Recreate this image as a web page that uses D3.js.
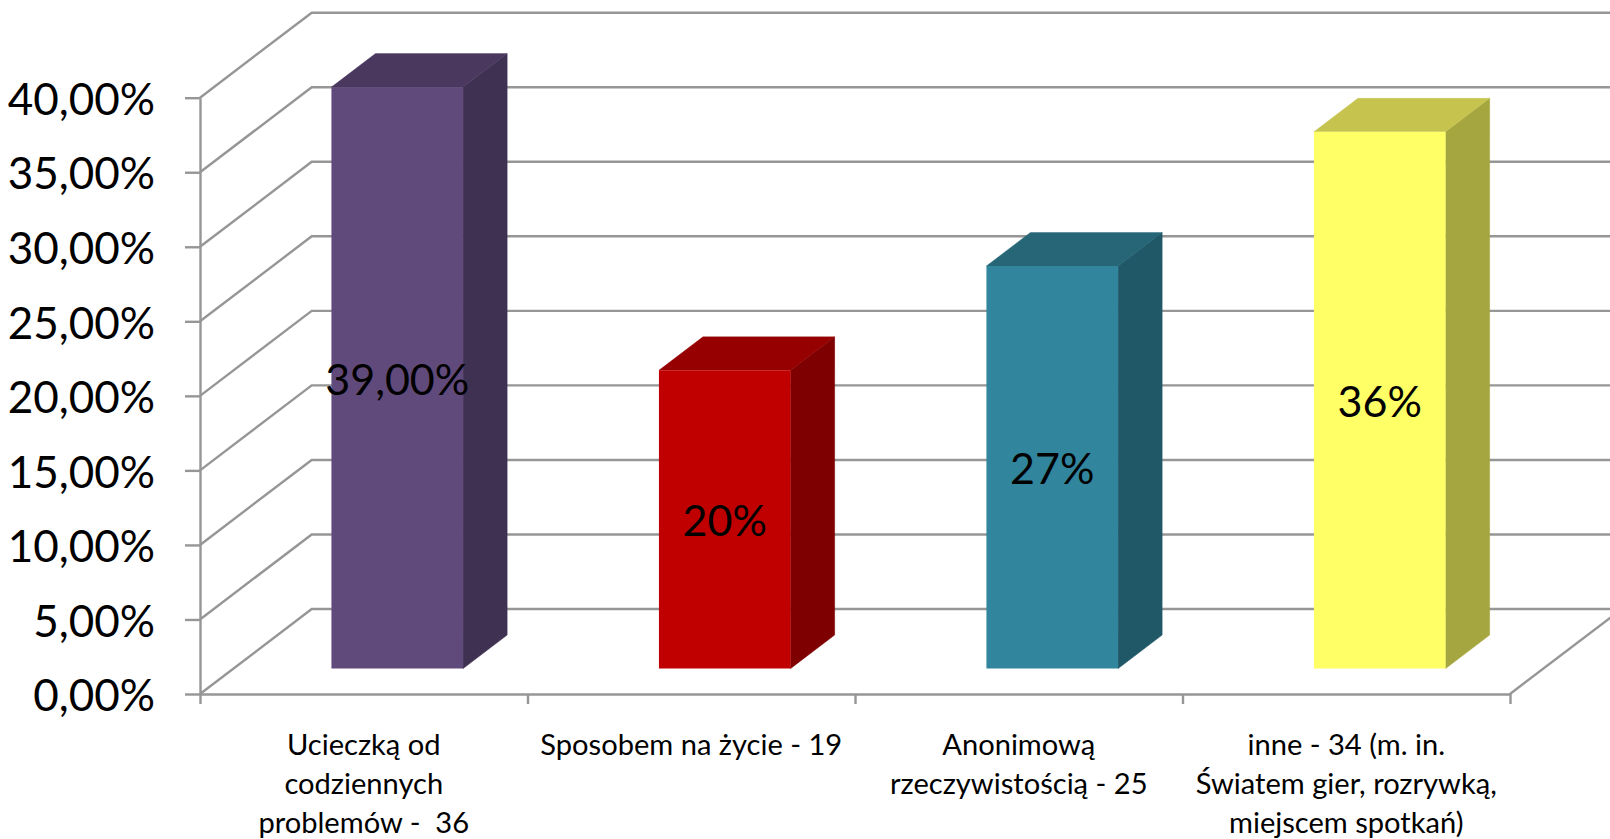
<!DOCTYPE html>
<html><head><meta charset="utf-8">
<style>html,body{margin:0;padding:0;background:#fff;overflow:hidden}svg{display:block}
text{font-family:Lato,"Noto Sans",sans-serif;fill:#000}</style>
<script src="https://cdnjs.cloudflare.com/ajax/libs/d3/7.8.5/d3.min.js"></script></head>
<body><svg id="c" width="1610" height="839"></svg>
<script>
const categories=[["Ucieczką od","codziennych","problemów -  36"],["Sposobem na życie - 19"],["Anonimową","rzeczywistością - 25"],["inne - 34 (m. in.","Światem gier, rozrywką,","miejscem spotkań)"]];
const values=[39,20,27,36];
const valueLabels=["39,00%","20%","27%","36%"];
const faceColors=["#604A7B","#C00000","#31859C","#FFFF66"];
const sideColors=["#3F3151","#7F0000","#205867","#A6A640"];
const topColors=["#4A385F","#960000","#266676","#C6C44F"];
const yTicks=[0,5,10,15,20,25,30,35,40];
const gridColor="#969696";
const W=1610,H=839;
const x0=200,x1=1510,y0=694,y40=97.7;
const wallDx=111.7,wallDy=85;
const barFront=0.3,barDepth=0.394;
const svg=d3.select("#c");
const y=d3.scaleLinear().domain([0,40]).range([y0,y40]);
const x=d3.scaleBand().domain(d3.range(categories.length)).range([x0,x1]).paddingInner(0).paddingOuter(0);
const barW=x.bandwidth()*0.402;
const fmt=d=>d.toFixed(2).replace(".",",")+"%";
const line=d3.line();
const sw=2.4;
// walls and gridlines
svg.append("g").selectAll("path").data(yTicks).join("path")
  .attr("d",d=>line([[x0,y(d)],[x0+wallDx,y(d)-wallDy],[x1+wallDx,y(d)-wallDy]]))
  .attr("fill","none").attr("stroke",gridColor).attr("stroke-width",sw);
// floor right edge
svg.append("path").attr("d",line([[x1,y0],[x1+wallDx,y0-wallDy]])).attr("fill","none").attr("stroke",gridColor).attr("stroke-width",sw);
// axes
const axL=svg.append("g").attr("transform",`translate(${x0},0)`)
  .call(d3.axisLeft(y).tickValues(yTicks).tickFormat(fmt).tickSize(15).tickSizeOuter(0).tickPadding(30));
axL.selectAll("path,line").attr("stroke",gridColor).attr("stroke-width",sw);
axL.selectAll("text").attr("font-size",44).attr("font-family",'Lato').attr("fill","#000").attr("dy","0.38em");
const axB=svg.append("g").attr("transform",`translate(0,${y0})`)
  .call(d3.axisBottom(d3.scaleLinear().domain([0,4]).range([x0,x1])).tickValues([0,1,2,3,4]).tickFormat("").tickSize(10).tickSizeOuter(0));
axB.selectAll("path,line").attr("stroke",gridColor).attr("stroke-width",sw);
// bars
const fx=i=>x(i)+x.bandwidth()/2+wallDx*barFront-barW/2;
const by=v=>y(v)-wallDy*barFront;
const dX=wallDx*barDepth,dY=wallDy*barDepth;
const g=svg.append("g").selectAll("g").data(values).join("g");
g.append("path").attr("fill",(d,i)=>sideColors[i]).attr("stroke",(d,i)=>sideColors[i]).attr("stroke-width",0.6).attr("d",(d,i)=>line([[fx(i)+barW,by(d)],[fx(i)+barW+dX,by(d)-dY],[fx(i)+barW+dX,by(0)-dY],[fx(i)+barW,by(0)]])+"Z");
g.append("path").attr("fill",(d,i)=>topColors[i]).attr("stroke",(d,i)=>topColors[i]).attr("stroke-width",0.4).attr("d",(d,i)=>line([[fx(i),by(d)],[fx(i)+dX,by(d)-dY],[fx(i)+barW+dX,by(d)-dY],[fx(i)+barW,by(d)]])+"Z");
g.append("rect").attr("fill",(d,i)=>faceColors[i]).attr("x",(d,i)=>fx(i)).attr("y",d=>by(d)).attr("width",barW).attr("height",d=>by(0)-by(d));
g.append("text").attr("x",(d,i)=>fx(i)+barW/2).attr("y",d=>(by(d)+by(0))/2+17).attr("text-anchor","middle").attr("font-size",43).text((d,i)=>valueLabels[i]);
// category labels
const lab=svg.append("g").selectAll("text").data(categories).join("text")
  .attr("text-anchor","middle").attr("font-size",29.1)
  .attr("transform",(d,i)=>`translate(${x(i)+x.bandwidth()/2},755)`);
lab.selectAll("tspan").data(d=>d).join("tspan").attr("x",0).attr("y",(d,i)=>i*39).attr("xml:space","preserve").text(d=>d);
</script></body></html>
